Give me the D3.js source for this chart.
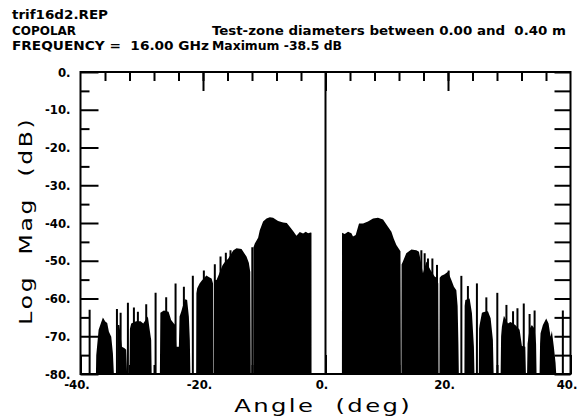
<!DOCTYPE html>
<html>
<head>
<meta charset="utf-8">
<script src="https://cdn.jsdelivr.net/npm/d3@7"></script>
<style>
  body { margin: 0; background: #fff; }
  svg { display: block; }
  text { white-space: pre; }
</style>
</head>
<body>
<svg id="chart"></svg>
<script>
// header lines of the plot
const headerText = ["trif16d2.REP", "COPOLAR", "FREQUENCY =  16.00 GHz",
  "Test-zone diameters between 0.00 and  0.40 m", "Maximum -38.5 dB"];

const xTicks = [-40, -20, 0, 20, 40];
const xTickLabels = ["-40.", "-20.", "0.", "20.", "40."];
const xMinorTicks = d3.range(-36, 40, 4);
const yTicks = [0, -10, -20, -30, -40, -50, -60, -70, -80];
const yTickLabels = ["0.", "-10.", "-20.", "-30.", "-40.", "-50.", "-60.", "-70.", "-80."];
const yMinorTicks = [-5, -15, -25, -35, -45, -55, -65, -75];

// filled envelope of the sidelobes, angle (deg) and level (dB), one lobe per line
const envAngle = [
  -37.48, -37.43, -37.04, -36.66, -36.34, -35.96, -35.64, -35.36, -34.98, -34.71, -34.55,
  -33.96, -33.92, -33.65, -33.24, -32.80, -32.54, -32.39,
  -32.01, -31.93, -31.72, -30.91, -30.19, -29.76, -29.0, -28.72, -28.46, -28.38,
  -27.04, -26.96, -26.39, -25.62, -25.2, -24.76, -24.51, -24.35, -23.94, -23.83, -23.56, -23.29, -22.91, -22.59, -22.31, -22.15, -22.06,
  -21.12, -21.08, -20.95, -20.56, -20.19, -19.45, -18.99, -18.6, -18.36, -18.29,
  -18.15, -18.13, -17.79, -17.53, -16.81, -16.44, -15.9, -15.08, -14.53, -13.71, -12.9, -12.52, -12.28, -12.2,
  -11.79, -11.77, -11.54, -11.0, -10.73, -10.19, -9.63, -9.09, -8.56, -7.74, -6.92, -6.32, -5.83, -5.29, -4.74, -4.2, -3.66, -3.22, -2.85, -2.41, -2.29, -2.28,
  2.68, 2.7, 3.14, 3.68, 4.23, 4.49, 4.93, 5.47, 6.13, 6.94, 7.76, 8.57, 9.39, 10.2, 10.76, 11.13, 11.57, 12.0, 12.24, 12.31,
  12.39, 12.42, 12.64, 13.19, 14.02, 14.84, 15.26, 15.54, 15.91, 16.47, 16.84, 17.17, 17.82, 18.15, 18.41, 18.46,
  18.6, 18.64, 18.92, 19.45, 19.99, 20.55, 20.97, 21.36, 21.57, 21.7, 21.77,
  22.68, 22.72, 22.83, 23.53, 23.91, 24.23, 24.32,
  25.03, 25.08, 25.16, 25.54, 25.86, 26.52, 26.96, 27.33, 27.45,
  28.59, 28.67, 28.8, 29.13, 29.78, 30.22, 30.99, 31.69, 32.07, 32.62, 32.72,
  32.91, 32.99, 33.32, 33.69, 34.14, 34.38, 34.46,
  34.95, 35.03, 35.11, 35.49, 36.04, 36.42, 36.75, 36.96, 37.28, 37.56, 37.67
];
const envDb = [
  -80, -75, -68.3, -66.5, -65.0, -66.1, -66.5, -68.8, -70.1, -74.5, -80,
  -80, -67, -67, -72.8, -73.2, -73.6, -80,
  -80, -68, -66.6, -66, -66, -66.6, -64.8, -68.1, -71, -80,
  -80, -63.8, -63.2, -63.5, -65.7, -66.6, -67, -72.8, -72.8, -64.8, -63.5, -62, -60.2, -60.4, -64.8, -71, -80,
  -80, -58.6, -57.3, -56, -55.2, -53.9, -54.4, -54.7, -56, -80,
  -80, -55.1, -55.1, -54.1, -51.2, -50.3, -49.5, -47.3, -46.7, -46.9, -48.9, -50.5, -53, -80,
  -80, -46.5, -45.4, -43.9, -41.9, -39.6, -38.8, -38.5, -38.6, -39.5, -39.9, -40, -41, -42.1, -43.4, -42.4, -42.8, -42.3, -42.7, -42.5, -42.6, -80,
  -80, -42.6, -42.9, -42.3, -42.7, -43.6, -43.2, -40.1, -40.1, -39.6, -38.8, -38.6, -39.1, -41, -42.3, -44.1, -45.8, -46.9, -47.5, -80,
  -80, -51, -50.2, -48, -47, -47.2, -47.6, -50, -53.3, -50.2, -51.5, -52.5, -54.2, -54.5, -56, -80,
  -80, -54.5, -54, -53.6, -52.9, -55.1, -56.9, -57.8, -62, -72, -80,
  -80, -62, -60.4, -60, -63.9, -72.8, -80,
  -80, -68, -67, -63.8, -63.6, -63.4, -65.2, -71, -80,
  -80, -70, -67.5, -64.6, -66.6, -66.2, -67, -68.3, -72.6, -72.8, -80,
  -80, -72, -68, -67, -68, -72, -80,
  -80, -72, -69.2, -67, -65.3, -66.6, -70.1, -68.6, -72.8, -77, -80
];

// narrow peaks drawn as single lines
const spikeAngle = [-38.51, -34.05, -33.45, -32.26, -31.28, -30.63, -29.27, -27.74, -26.01, -24.48,
  -23.12, -21.66, -19.86, -18.07, -17.14, -16.27, -15.51, -11.95, 0, 15.65,
  16.19, 16.73, 17.45, 18.2, 20.11, 22.18, 23.25, 24.72, 26.26, 28.05,
  29.54, 30.62, 31.34, 32.37, 33.32, 34.14, 38.75];
const spikeDb = [-63, -62.8, -63.8, -61.1, -62.4, -63.5, -61.5, -58.5, -59.7, -56,
  -56.9, -54, -52.6, -50.9, -48.9, -47.9, -47.2, -46.4, 0, -47.2,
  -48, -49.4, -49.4, -51.1, -52.6, -54, -56.7, -56, -59.7, -58.5,
  -61.7, -63.4, -62.6, -61.3, -64.1, -63.2, -63.2];

const width = 579, height = 420;
const margin = {top: 72, right: 8.5, bottom: 46, left: 80.5};
const plotFont = "'Liberation Sans Narrow', 'DejaVu Sans Condensed', sans-serif";
// where each header line sits: x, baseline, width
const headerPos = [[12, 19, 96], [12, 35, 64], [12, 50, 197], [212, 35, 354], [212, 50, 130]];

const svg = d3.select("#chart")
    .attr("width", width)
    .attr("height", height)
    .style("background", "#fff");

const x = d3.scaleLinear()
    .domain([-40, 40])
    .range([margin.left, width - margin.right]);

const y = d3.scaleLinear()
    .domain([-80, 0])
    .range([height - margin.bottom, margin.top]);

svg.append("clipPath").attr("id", "plotclip")
  .append("rect")
    .attr("x", x(-40)).attr("y", y(0))
    .attr("width", x(40) - x(-40)).attr("height", y(-80) - y(0));

const plot = svg.append("g").attr("clip-path", "url(#plotclip)");

const envelope = d3.zip(envAngle, envDb);
const area = d3.area()
    .x(d => x(d[0]))
    .y0(y(-80))
    .y1(d => y(d[1]))
    .curve(d3.curveLinear);

plot.append("path")
    .datum(envelope)
    .attr("fill", "#000")
    .attr("d", area);

plot.selectAll(".spike")
    .data(d3.zip(spikeAngle, spikeDb))
    .enter().append("line")
    .attr("class", "spike")
    .attr("x1", d => x(d[0])).attr("x2", d => x(d[0]))
    .attr("y1", y(-80)).attr("y2", d => y(d[1]))
    .attr("stroke", "#000")
    .attr("stroke-width", 2);

// axes: ticks point inward on all four sides
function styleAxis(g) {
  g.select(".domain").remove();
  g.selectAll(".tick line").attr("stroke", "#000").attr("stroke-width", 2);
  g.selectAll(".tick text")
      .attr("fill", "#000")
      .style("font-family", plotFont)
      .style("font-weight", "bold")
      .style("font-size", "13px");
}

svg.append("g")
    .attr("transform", "translate(" + x(-40) + ",0)")
    .call(d3.axisLeft(y).tickValues(yTicks).tickSizeInner(-18).tickSizeOuter(0)
      .tickPadding(10).tickFormat((d, i) => yTickLabels[i]))
    .call(styleAxis);

svg.append("g")
    .attr("transform", "translate(" + x(-40) + ",0)")
    .call(d3.axisLeft(y).tickValues(yMinorTicks).tickSizeInner(-9).tickSizeOuter(0).tickFormat(""))
    .call(styleAxis);

svg.append("g")
    .attr("transform", "translate(" + x(40) + ",0)")
    .call(d3.axisRight(y).tickValues(yTicks.concat(yMinorTicks)).tickSizeInner(-16).tickSizeOuter(0).tickFormat(""))
    .call(styleAxis);

svg.append("g")
    .attr("transform", "translate(0," + y(0) + ")")
    .call(d3.axisTop(x).tickValues(xMinorTicks).tickSizeInner(-9).tickSizeOuter(0).tickFormat(""))
    .call(styleAxis);

svg.append("g")
    .attr("transform", "translate(0," + y(0) + ")")
    .call(d3.axisTop(x).tickValues([-20, 0, 20]).tickSizeInner(-19).tickSizeOuter(0).tickFormat(""))
    .call(styleAxis);

svg.append("g")
    .attr("transform", "translate(0," + y(-80) + ")")
    .call(d3.axisBottom(x).tickValues(xMinorTicks).tickSizeInner(-9).tickSizeOuter(0).tickFormat(""))
    .call(styleAxis);

svg.append("g")
    .attr("transform", "translate(0," + y(-80) + ")")
    .call(d3.axisBottom(x).tickValues(xTicks).tickSizeInner(-19).tickSizeOuter(0)
      .tickPadding(6).tickFormat((d, i) => xTickLabels[i]))
    .call(styleAxis)
    .selectAll(".tick text").attr("dx", -4);

svg.append("rect")
    .attr("x", x(-40)).attr("y", y(0))
    .attr("width", x(40) - x(-40)).attr("height", y(-80) - y(0))
    .attr("fill", "none")
    .attr("stroke", "#000")
    .attr("stroke-width", 2);

// axis titles, glyphs stretched along the text like the plotter font
svg.append("text")
    .attr("transform", "translate(32," + ((y(0) + y(-80)) / 2 - 1) + ") rotate(-90) scale(1.3,1)")
    .attr("text-anchor", "middle")
    .attr("textLength", 158)
    .attr("lengthAdjust", "spacing")
    .style("font-family", "'DejaVu Sans', sans-serif")
    .style("font-size", "18px")
    .text("Log  Mag  (dB)");

svg.append("text")
    .attr("transform", "translate(322,412) scale(1.35,1)")
    .attr("text-anchor", "middle")
    .attr("textLength", 130)
    .attr("lengthAdjust", "spacing")
    .style("font-family", "'DejaVu Sans', sans-serif")
    .style("font-size", "18px")
    .text("Angle  (deg)");

// header
svg.append("g")
    .style("font-family", plotFont)
    .style("font-weight", "bold")
    .style("font-size", "13px")
  .selectAll("text")
    .data(headerText)
    .enter().append("text")
    .attr("x", (d, i) => headerPos[i][0])
    .attr("y", (d, i) => headerPos[i][1])
    .attr("textLength", (d, i) => headerPos[i][2])
    .attr("lengthAdjust", "spacingAndGlyphs")
    .text(d => d);
</script>
</body>
</html>
